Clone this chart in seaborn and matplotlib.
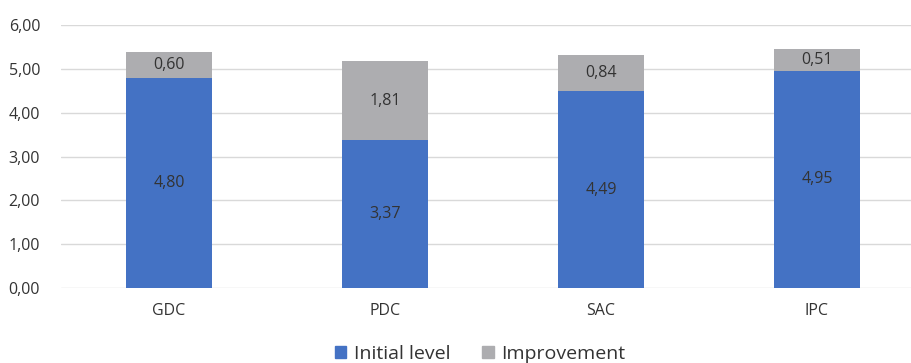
import numpy as np
import pandas as pd
import matplotlib
matplotlib.use("Agg")
import matplotlib.pyplot as plt
import seaborn as sns
from matplotlib.patches import Patch

categories = ["GDC", "PDC", "SAC", "IPC"]
initial_level = [4.80, 3.37, 4.49, 4.95]
improvement = [0.60, 1.81, 0.84, 0.51]

df = pd.DataFrame({"cat": categories, "initial": initial_level, "improv": improvement})

sns.set_theme(style="white")
plt.rcParams["font.family"] = ["Open Sans", "DejaVu Sans"]

blue = "#4472C4"
grey = "#ADADB0"
txt = "#333333"

fig = plt.figure(figsize=(9.11, 3.63), dpi=100)
# axes runs past the right edge, like the cropped original
ax = fig.add_axes([61 / 911, 75.3 / 363, 864 / 911, 262.4 / 363])

sns.barplot(data=df, x="cat", y="initial", color=blue, width=0.4,
            saturation=1, linewidth=0, ax=ax)
sns.barplot(data=df, x="cat", y="improv", bottom=df["initial"], color=grey,
            width=0.4, saturation=1, linewidth=0, ax=ax)

for cont in ax.containers:
    ax.bar_label(cont, labels=[f"{b.get_height():.2f}".replace(".", ",") for b in cont],
                 label_type="center", fontsize=11.5, color=txt)

ax.set_ylim(0, 6)
ax.set_yticks(np.arange(0, 7, 1))
ax.set_yticklabels([f"{v:.2f}".replace(".", ",") for v in np.arange(0, 7, 1)])
ax.yaxis.grid(True, color="#D9D9D9", linewidth=1)
ax.set_axisbelow(True)
for s in ax.spines.values():
    s.set_visible(False)
ax.tick_params(axis="both", length=0, labelsize=11.5, labelcolor=txt)
ax.tick_params(axis="x", pad=11)
ax.tick_params(axis="y", pad=15)
ax.set_xlabel("")
ax.set_ylabel("")

handles = [Patch(color=blue, label="Initial level"), Patch(color=grey, label="Improvement")]
fig.legend(handles=handles, loc="center", bbox_to_anchor=(0.527, 9 / 363), ncol=2,
           frameon=False, fontsize=14, handlelength=0.6, handleheight=0.6,
           handletextpad=0.4, columnspacing=1.6, labelcolor=txt)

fig.savefig("out.png", dpi=100)
